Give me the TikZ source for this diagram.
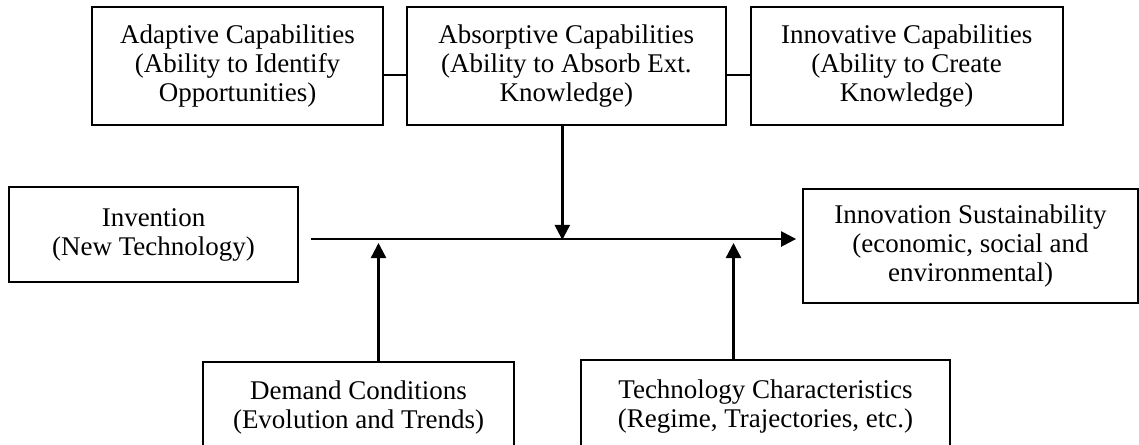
\documentclass[tikz,border=0pt]{standalone}
\usepackage{fontspec}
\setmainfont{Liberation Serif}
\usetikzlibrary{positioning, arrows.meta}
\tikzset{
>={Triangle[length=7.5pt, width=7.5pt]}, % filled arrow heads
box/.style={draw, line width=0.9pt, align=center, inner sep=0pt,
  font=\fontsize{13.5}{14.5}\selectfont}, % plain framed box
capbox/.style={box, minimum height=59pt}, % the three capability boxes
link/.style={line width=1.2pt}, % connector lines
}
\begin{document}
\begin{tikzpicture}[x=0.5pt, y=-0.5pt]
\useasboundingbox (0,0) rectangle (1139,444);
                \node[capbox, minimum width=145.5pt] (adaptive) at (237.5,66) {Adaptive Capabilities\\(Ability to Identify\\Opportunities)};
                \node[capbox, minimum width=159.5pt, right=11pt of adaptive] (absorptive) {Absorptive Capabilities\\(Ability to Absorb Ext.\\Knowledge)};
                \node[capbox, minimum width=156pt, right=11.5pt of absorptive] (innovative) {Innovative Capabilities\\(Ability to Create\\Knowledge)};
                \node[box, minimum width=144.5pt, minimum height=47.5pt] (invention) at (153.5,234.5) {Invention\\(New Technology)};
                \node[box, minimum width=167.5pt, minimum height=57pt] (sustain) at (970.5,246) {Innovation Sustainability\\(economic, social and\\environmental)};
                \node[box, minimum width=155.5pt, minimum height=46pt, anchor=north] (demand) at (358.5,361) {Demand Conditions\\(Evolution and Trends)};
                \node[box, minimum width=184.5pt, minimum height=47pt, anchor=north] (tech) at (765.5,359) {Technology Characteristics\\(Regime, Trajectories, etc.)};
                \coordinate (start) at (311,239);
                \draw[link]
                    ([yshift=-4.5pt]adaptive.east) -- ([yshift=-4.5pt]absorptive.west)
                    ([yshift=-4.5pt]absorptive.east) -- ([yshift=-4.5pt]innovative.west)
                    ;
                \draw[link, ->, shorten >=3pt] (start) -- (start -| sustain.west);
                \draw[link, ->] ([xshift=-2pt]absorptive.south) -- ++(0,114);
                \draw[link, ->] ([xshift=10pt]demand.north) -- ++(0,-118);
                \draw[link, ->] ([xshift=-16pt]tech.north) -- ++(0,-116);
            \end{tikzpicture}
\end{document}
